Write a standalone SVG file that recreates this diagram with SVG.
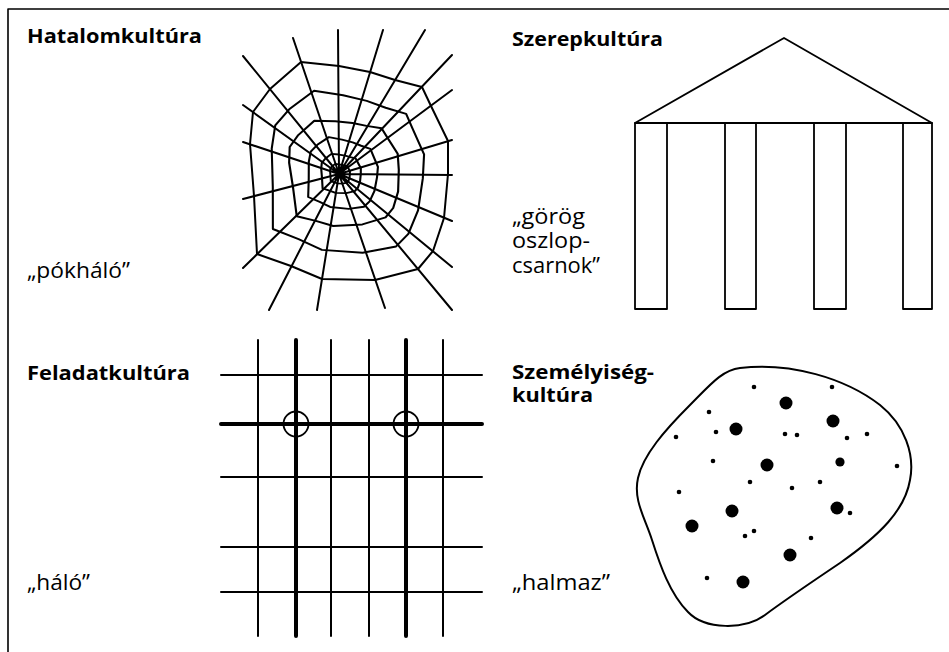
<svg xmlns="http://www.w3.org/2000/svg" xmlns:xlink="http://www.w3.org/1999/xlink" width="949" height="652" viewBox="0 0 949 652">
<style>
  .ln{fill:none;stroke:#000;stroke-linecap:round;stroke-linejoin:round}
  .title{font-family:"Open Sans","Liberation Sans",sans-serif;font-weight:bold;font-size:20px;fill:#000}
  .lab{font-family:"Open Sans","Liberation Sans",sans-serif;font-size:21px;fill:#000}
  .big{fill:#000}
</style>
<defs>
  <polygon id="ring" points="339,66 370,72 395,80 422,87 431,106 448,141 448,174 444,218 433,251 418,269 375,280 322,279 291,266 257,254 254,196 250,144 253,112 270,89 301,62" fill="none" stroke="#000" stroke-linejoin="round"/>
</defs>
<rect width="949" height="652" fill="#fff"/>
<g id="frame" class="ln" stroke-width="1.6">
  <path d="M8 652 L8 9 L949 9"/>
</g>

<g id="hatalom">
  <text class="title" x="27" y="43" textLength="175" lengthAdjust="spacingAndGlyphs">Hatalomkultúra</text>
  <text class="lab" x="27" y="278" textLength="103" lengthAdjust="spacingAndGlyphs">„pókháló”</text>
  <g id="web" class="ln" stroke-width="2">
    <path d="M339 174L338 30M339 174L383 30M339 174L425 30M339 174L452 55M339 174L452 90M339 174L452 140M339 174L452 175M339 174L452 221M339 174L452 267M339 174L452 310M339 174L385 308M339 174L317 310M339 174L269 310M339 174L243 268M339 174L243 199M339 174L243 142M339 174L243 105M339 174L243 56M339 174L293 38"/>
    <use xlink:href="#ring" stroke-width="2"/>
    <use xlink:href="#ring" stroke-width="2.7" transform="translate(339 174) rotate(3) scale(0.77 0.73) translate(-339 -174)"/>
    <use xlink:href="#ring" stroke-width="3.9" transform="translate(339 174) rotate(-4) scale(0.55 0.49) translate(-339 -174)"/>
    <use xlink:href="#ring" stroke-width="6" transform="translate(339 174) rotate(5) scale(0.35 0.32) translate(-339 -174)"/>
    <use xlink:href="#ring" stroke-width="10.5" transform="translate(339 174) scale(0.2 0.18) translate(-339 -174)"/>
    <use xlink:href="#ring" stroke-width="20" transform="translate(339 174) scale(0.1 0.09) translate(-339 -174)"/>
  </g>
</g>

<g id="szerep">
  <text class="title" x="512" y="46" textLength="151" lengthAdjust="spacingAndGlyphs">Szerepkultúra</text>
  <text class="lab" x="512" y="224" textLength="73" lengthAdjust="spacingAndGlyphs">„görög</text>
  <text class="lab" x="512" y="248" textLength="78" lengthAdjust="spacingAndGlyphs">oszlop-</text>
  <text class="lab" x="512" y="273" textLength="88" lengthAdjust="spacingAndGlyphs">csarnok”</text>
  <g id="temple" class="ln" stroke-width="1.8">
    <path d="M635 123 L784 38 L932 123 Z"/>
    <rect x="635" y="123" width="32" height="186"/>
    <rect x="725" y="123" width="31" height="186"/>
    <rect x="814" y="123" width="32" height="186"/>
    <rect x="903" y="123" width="29" height="186"/>
  </g>
</g>

<g id="feladat">
  <text class="title" x="27" y="380" textLength="163" lengthAdjust="spacingAndGlyphs">Feladatkultúra</text>
  <text class="lab" x="27" y="590" textLength="63" lengthAdjust="spacingAndGlyphs">„háló”</text>
  <g id="grid" class="ln">
    <path stroke-width="2" d="M258 340V636M331 340V636M369 340V636M443 340V636M221 375H482M221 477H482M221 547H482M221 592H482"/>
    <path stroke-width="4" d="M296 340V636M406 340V636M221 424H482"/>
    <circle cx="296" cy="424" r="12.5" stroke-width="1.8"/>
    <circle cx="406" cy="424" r="12.5" stroke-width="1.8"/>
  </g>
</g>

<g id="szemelyiseg">
  <text class="title" x="512" y="379" textLength="142" lengthAdjust="spacingAndGlyphs">Személyiség-</text>
  <text class="title" x="512" y="402" textLength="81" lengthAdjust="spacingAndGlyphs">kultúra</text>
  <text class="lab" x="512" y="590" textLength="98" lengthAdjust="spacingAndGlyphs">„halmaz”</text>
  <g id="blob">
    <path class="ln" stroke-width="2" d="M740 368 C790 362 845 378 880 405 C905 425 915 455 910 480 C905 510 880 535 840 563 C800 590 785 600 765 615 C745 630 705 630 688 612 C670 594 660 565 652 540 C645 518 633 500 638 478 C643 455 665 430 690 405 C710 385 722 370 740 368 Z"/>
    <g class="big">
      <circle cx="786" cy="403" r="6.5"/>
      <circle cx="833" cy="421" r="6.5"/>
      <circle cx="736" cy="429" r="6.5"/>
      <circle cx="767" cy="465" r="6.5"/>
      <circle cx="840" cy="462" r="4.6"/>
      <circle cx="732" cy="511" r="6.5"/>
      <circle cx="837" cy="508" r="6.5"/>
      <circle cx="692" cy="526" r="6.5"/>
      <circle cx="790" cy="555" r="6.5"/>
      <circle cx="743" cy="582" r="6.5"/>
      <circle cx="754" cy="387" r="2.3"/>
      <circle cx="832" cy="387" r="2.3"/>
      <circle cx="709" cy="412" r="2.3"/>
      <circle cx="716" cy="432" r="2.3"/>
      <circle cx="676" cy="437" r="2.3"/>
      <circle cx="785" cy="434" r="2.3"/>
      <circle cx="797" cy="435" r="2.3"/>
      <circle cx="847" cy="438" r="2.3"/>
      <circle cx="867" cy="434" r="2.3"/>
      <circle cx="713" cy="461" r="2.3"/>
      <circle cx="897" cy="466" r="2.3"/>
      <circle cx="750" cy="482" r="2.3"/>
      <circle cx="820" cy="482" r="2.3"/>
      <circle cx="792" cy="488" r="2.3"/>
      <circle cx="679" cy="492" r="2.3"/>
      <circle cx="850" cy="513" r="2.3"/>
      <circle cx="754" cy="531" r="2.3"/>
      <circle cx="745" cy="536" r="2.3"/>
      <circle cx="811" cy="538" r="2.3"/>
      <circle cx="707" cy="578" r="2.3"/>
    </g>
  </g>
</g>
</svg>
